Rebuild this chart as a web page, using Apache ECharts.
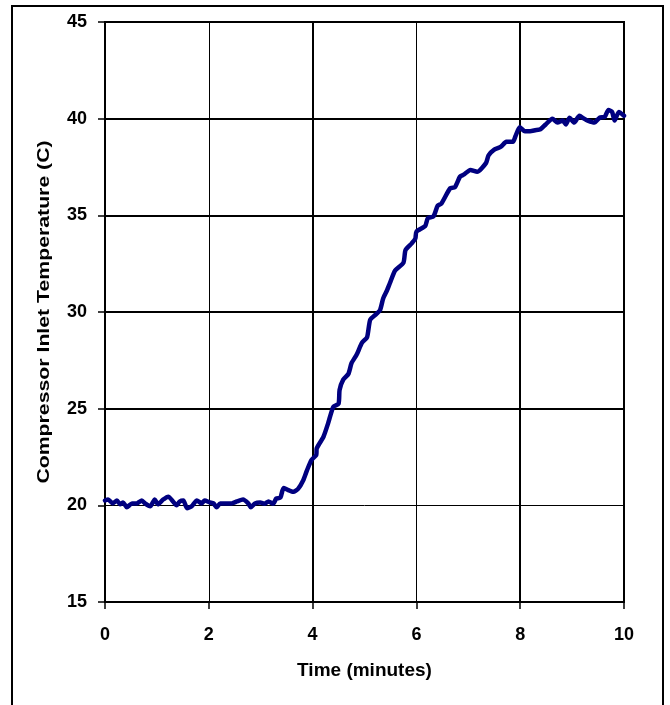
<!DOCTYPE html>
<html>
<head>
<meta charset="utf-8">
<script src="https://cdn.jsdelivr.net/npm/echarts@6/dist/echarts.min.js"></script>
<style>
  html, body { margin: 0; padding: 0; background: #fff; }
  #chart { width: 670px; height: 705px; }
</style>
</head>
<body>
<div id="chart"></div>
<script>
// Time after start (minutes)
const timeMin = [
  0.00, 0.06, 0.15, 0.23, 0.29, 0.35, 0.42, 0.52, 0.61, 0.71, 0.77, 0.87, 0.96,
  1.02, 1.12, 1.22, 1.31, 1.38, 1.44, 1.51, 1.58, 1.67, 1.77, 1.86, 1.92,
  2.02, 2.09, 2.15, 2.22, 2.44, 2.54, 2.66, 2.76, 2.81, 2.89, 2.99,
  3.07, 3.15, 3.24, 3.30, 3.38, 3.44, 3.52, 3.63, 3.72, 3.82, 3.89, 3.98,
  4.07, 4.08, 4.21, 4.30, 4.40, 4.50, 4.52, 4.59, 4.69, 4.75, 4.85, 4.95,
  5.05, 5.11, 5.23, 5.30, 5.36, 5.43, 5.49, 5.59, 5.75, 5.79, 5.91, 5.98,
  6.00, 6.17, 6.22, 6.33, 6.41, 6.48, 6.65, 6.74, 6.84, 6.91,
  7.04, 7.17, 7.34, 7.39, 7.50, 7.63, 7.73, 7.86, 7.91, 7.99,
  8.09, 8.19, 8.29, 8.39, 8.49, 8.62, 8.72, 8.82, 8.88, 8.95,
  9.04, 9.14, 9.23, 9.30, 9.43, 9.53, 9.63, 9.70, 9.77, 9.82, 9.90, 10.00
];
// Compressor inlet temperature (C)
const inletTempC = [
  20.25, 20.30, 20.10, 20.25, 20.05, 20.15, 19.90, 20.10, 20.10, 20.25, 20.10, 19.95, 20.30,
  20.05, 20.30, 20.45, 20.20, 20.00, 20.20, 20.25, 19.85, 19.95, 20.25, 20.10, 20.25,
  20.15, 20.10, 19.90, 20.10, 20.10, 20.20, 20.30, 20.10, 19.90, 20.10, 20.15,
  20.08, 20.20, 20.08, 20.35, 20.40, 20.90, 20.80, 20.70, 20.85, 21.30, 21.80, 22.35,
  22.60, 22.95, 23.55, 24.25, 25.10, 25.25, 25.97, 26.50, 26.80, 27.35, 27.80, 28.40,
  28.70, 29.60, 29.90, 30.10, 30.70, 31.10, 31.50, 32.15, 32.55, 33.20, 33.55, 33.80,
  34.15, 34.45, 34.85, 34.95, 35.50, 35.60, 36.40, 36.45, 37.00, 37.10,
  37.35, 37.25, 37.70, 38.10, 38.40, 38.55, 38.80, 38.80, 39.10, 39.55,
  39.35, 39.35, 39.40, 39.45, 39.70, 40.00, 39.80, 39.90, 39.70, 40.05,
  39.80, 40.15, 40.00, 39.90, 39.80, 40.05, 40.10, 40.45, 40.35, 39.90, 40.35, 40.15
];
// Axis ranges and tick spacing
const xRange = [0, 10], xStep = 2;
const yRange = [15, 45], yStep = 5;
// Heavier grid lines
const heavyX = [4, 8];
const heavyY = [25, 30, 35, 40];
const yTitle = 'Compressor Inlet Temperature (C)';

const FONT = '"Liberation Sans", Arial, sans-serif';
const chart = echarts.init(document.getElementById('chart'), null, { renderer: 'canvas' });

const heavyLines = [
  ...heavyX.map(v => ({ xAxis: v })),
  ...heavyY.map(v => ({ yAxis: v }))
];

chart.setOption({
  animation: false,
  backgroundColor: '#ffffff',
  graphic: [{
    type: 'rect',
    shape: { x: 12, y: 6, width: 651, height: 720 },
    style: { fill: 'none', stroke: '#000', lineWidth: 2 },
    z: 100
  }, {
    // rotated, lengthwise-stretched axis title
    type: 'text',
    x: 44, y: 312,
    rotation: Math.PI / 2,
    scaleX: 1.25, scaleY: 1,
    style: {
      text: yTitle,
      font: 'bold 17px ' + FONT,
      fill: '#000',
      align: 'center',
      verticalAlign: 'middle'
    },
    z: 100
  }],
  grid: {
    left: 105, right: 46, top: 22, bottom: 103,
    show: true, borderColor: '#000', borderWidth: 2, backgroundColor: 'transparent'
  },
  xAxis: {
    type: 'value', min: xRange[0], max: xRange[1], interval: xStep,
    name: 'Time (minutes)', nameLocation: 'middle', nameGap: 59,
    nameTextStyle: { fontFamily: FONT, fontWeight: 'bold', fontSize: 19, color: '#000' },
    axisLine: { show: true, onZero: false, lineStyle: { color: '#000', width: 2 } },
    axisTick: { show: true, inside: false, length: 7, lineStyle: { color: '#000', width: 1.5 } },
    axisLabel: { margin: 24, fontFamily: FONT, fontWeight: 'bold', fontSize: 18, color: '#000' },
    splitLine: { show: true, lineStyle: { color: '#000', width: 1 } }
  },
  yAxis: {
    type: 'value', min: yRange[0], max: yRange[1], interval: yStep,
    axisLine: { show: true, onZero: false, lineStyle: { color: '#000', width: 2 } },
    axisTick: { show: true, inside: false, length: 7, lineStyle: { color: '#000', width: 1.5 } },
    axisLabel: { margin: 18, fontFamily: FONT, fontWeight: 'bold', fontSize: 18, color: '#000' },
    splitLine: { show: true, lineStyle: { color: '#000', width: 1 } }
  },
  series: [{
    type: 'line',
    data: timeMin.map((t, i) => [t, inletTempC[i]]),
    showSymbol: false,
    smooth: 0.2,
    lineStyle: { color: '#000080', width: 4.5, join: 'round', cap: 'round' },
    z: 5,
    markLine: {
      silent: true, symbol: 'none', label: { show: false },
      lineStyle: { color: '#000', width: 2, type: 'solid' },
      data: heavyLines,
      z: 1
    }
  }]
});
</script>
</body>
</html>
